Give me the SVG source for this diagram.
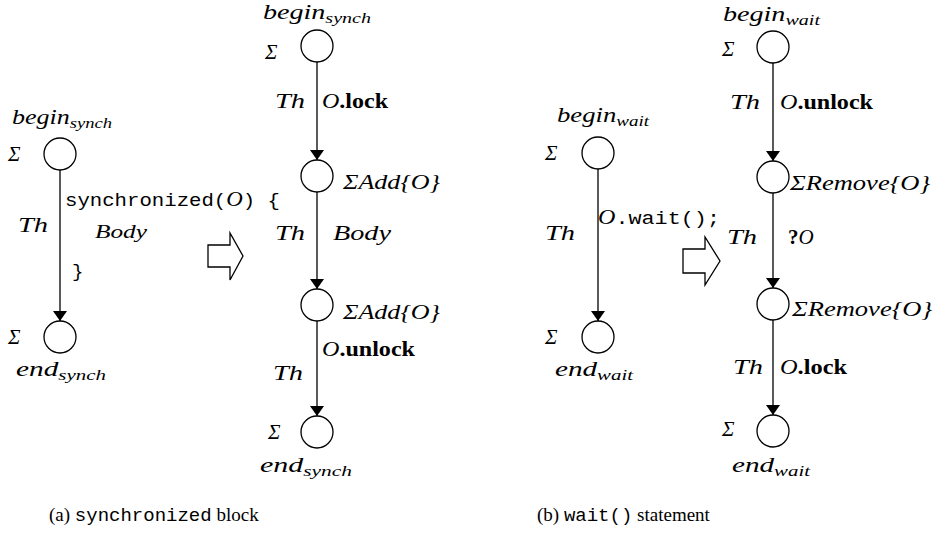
<svg xmlns="http://www.w3.org/2000/svg" width="937" height="533" viewBox="0 0 937 533">
  <style>
    .bg { fill: #ffffff; }
    .state { fill: #ffffff; stroke: #000000; stroke-width: 1.3; }
    .edge { fill: none; stroke: #000000; stroke-width: 1.3; marker-end: url(#head); }
    .big { fill: #ffffff; stroke: #000000; stroke-width: 1.3; stroke-linejoin: miter; }
    .m { font-family: "Liberation Serif", "Times New Roman", serif; font-style: italic; font-size: 21px; fill: #000; }
    .sub { font-size: 15px; }
    .b { font-family: "Liberation Serif", "Times New Roman", serif; font-style: normal; font-weight: bold; font-size: 21px; }
    .tt { font-family: "Liberation Mono", "Courier New", monospace; font-style: normal; font-size: 19px; fill: #000; }
    .cap { font-family: "Liberation Serif", "Times New Roman", serif; font-size: 19px; fill: #000; }
    .cap .tt { font-size: 19px; }
  </style>
  <defs>
    <marker id="head" viewBox="0 0 10 20" refX="10" refY="10" markerWidth="10" markerHeight="20" markerUnits="userSpaceOnUse" orient="auto">
      <path d="M0,3 L10,10 L0,17 Z" fill="#000"/>
    </marker>
  </defs>
  <rect class="bg" x="0" y="0" width="937" height="533"/>

  <!-- connectors -->
  <g id="connectors">
    <line class="edge" x1="60" y1="170" x2="60" y2="321"/>
    <line class="edge" x1="317" y1="62" x2="317" y2="160"/>
    <line class="edge" x1="317" y1="192" x2="317" y2="289"/>
    <line class="edge" x1="317" y1="321" x2="317" y2="416"/>
    <line class="edge" x1="598" y1="169" x2="598" y2="321"/>
    <line class="edge" x1="773" y1="63" x2="773" y2="161"/>
    <line class="edge" x1="773" y1="193" x2="773" y2="288"/>
    <line class="edge" x1="773" y1="320" x2="773" y2="415"/>
  </g>

  <!-- (a) synchronized block, source form -->
  <g id="a-begin">
    <circle class="state" cx="60" cy="154" r="16"/>
    <text class="m" x="12" y="124" textLength="100" lengthAdjust="spacingAndGlyphs">begin<tspan class="sub" dy="4">synch</tspan></text>
    <text class="m" x="8" y="161">Σ</text>
  </g>
  <g id="a-end">
    <circle class="state" cx="60" cy="337" r="16"/>
    <text class="m" x="8" y="344">Σ</text>
    <text class="m" x="16" y="376" textLength="90" lengthAdjust="spacingAndGlyphs">end<tspan class="sub" dy="4">synch</tspan></text>
  </g>
  <g id="a-edge-labels">
    <text class="m" x="18" y="232" textLength="30" lengthAdjust="spacingAndGlyphs">Th</text>
    <text class="tt" x="65" y="206" textLength="215" lengthAdjust="spacingAndGlyphs">synchronized(<tspan class="m">O</tspan>) {</text>
    <text class="m" x="95" y="238" style="font-size:18px" textLength="52" lengthAdjust="spacingAndGlyphs">Body</text>
    <text class="tt" x="72" y="277">}</text>
  </g>

  <!-- transformation arrow (a) -->
  <polygon id="a-arrow" class="big" points="208,245 230,245 230,233 243,256 230,280 230,267 208,267"/>

  <!-- (a) synchronized block, expanded form -->
  <g id="a2-begin">
    <circle class="state" cx="317" cy="46" r="16"/>
    <text class="m" x="263" y="19" textLength="108" lengthAdjust="spacingAndGlyphs">begin<tspan class="sub" dy="4">synch</tspan></text>
    <text class="m" x="265" y="59">Σ</text>
  </g>
  <g id="a2-lock">
    <circle class="state" cx="317" cy="176" r="16"/>
    <text class="m" x="343" y="189" textLength="97" lengthAdjust="spacingAndGlyphs">ΣAdd{O}</text>
  </g>
  <g id="a2-body">
    <circle class="state" cx="317" cy="305" r="16"/>
    <text class="m" x="343" y="319" textLength="97" lengthAdjust="spacingAndGlyphs">ΣAdd{O}</text>
  </g>
  <g id="a2-end">
    <circle class="state" cx="317" cy="432" r="16"/>
    <text class="m" x="268" y="439">Σ</text>
    <text class="m" x="260" y="472" textLength="92" lengthAdjust="spacingAndGlyphs">end<tspan class="sub" dy="4">synch</tspan></text>
  </g>
  <g id="a2-edge-labels">
    <text class="m" x="275" y="108" textLength="30" lengthAdjust="spacingAndGlyphs">Th</text>
    <text class="m" x="322" y="108" textLength="66" lengthAdjust="spacingAndGlyphs">O<tspan class="b">.lock</tspan></text>
    <text class="m" x="275" y="240" textLength="30" lengthAdjust="spacingAndGlyphs">Th</text>
    <text class="m" x="333" y="240" textLength="58" lengthAdjust="spacingAndGlyphs">Body</text>
    <text class="m" x="322" y="356" textLength="93" lengthAdjust="spacingAndGlyphs">O<tspan class="b">.unlock</tspan></text>
    <text class="m" x="273" y="380" textLength="30" lengthAdjust="spacingAndGlyphs">Th</text>
  </g>

  <!-- (b) wait() statement, source form -->
  <g id="b-begin">
    <circle class="state" cx="598" cy="153" r="16"/>
    <text class="m" x="557" y="122" textLength="92" lengthAdjust="spacingAndGlyphs">begin<tspan class="sub" dy="4">wait</tspan></text>
    <text class="m" x="545" y="160">Σ</text>
  </g>
  <g id="b-end">
    <circle class="state" cx="598" cy="337" r="16"/>
    <text class="m" x="545" y="344">Σ</text>
    <text class="m" x="555" y="376" textLength="78" lengthAdjust="spacingAndGlyphs">end<tspan class="sub" dy="4">wait</tspan></text>
  </g>
  <g id="b-edge-labels">
    <text class="m" x="545" y="240" textLength="30" lengthAdjust="spacingAndGlyphs">Th</text>
    <text class="tt" x="598" y="224" textLength="122" lengthAdjust="spacingAndGlyphs"><tspan class="m">O</tspan>.wait();</text>
  </g>

  <!-- transformation arrow (b) -->
  <polygon id="b-arrow" class="big" points="683,249 705,249 705,237 720,261 705,285 705,273 683,273"/>

  <!-- (b) wait() statement, expanded form -->
  <g id="b2-begin">
    <circle class="state" cx="773" cy="47" r="16"/>
    <text class="m" x="723" y="21" textLength="97" lengthAdjust="spacingAndGlyphs">begin<tspan class="sub" dy="4">wait</tspan></text>
    <text class="m" x="722" y="56">Σ</text>
  </g>
  <g id="b2-unlocked">
    <circle class="state" cx="773" cy="177" r="16"/>
    <text class="m" x="790" y="190" textLength="140" lengthAdjust="spacingAndGlyphs">ΣRemove{O}</text>
  </g>
  <g id="b2-notified">
    <circle class="state" cx="773" cy="304" r="16"/>
    <text class="m" x="792" y="316" textLength="140" lengthAdjust="spacingAndGlyphs">ΣRemove{O}</text>
  </g>
  <g id="b2-end">
    <circle class="state" cx="773" cy="431" r="16"/>
    <text class="m" x="722" y="436">Σ</text>
    <text class="m" x="732" y="472" textLength="78" lengthAdjust="spacingAndGlyphs">end<tspan class="sub" dy="4">wait</tspan></text>
  </g>
  <g id="b2-edge-labels">
    <text class="m" x="730" y="109" textLength="30" lengthAdjust="spacingAndGlyphs">Th</text>
    <text class="m" x="780" y="109" textLength="93" lengthAdjust="spacingAndGlyphs">O<tspan class="b">.unlock</tspan></text>
    <text class="m" x="727" y="244" textLength="30" lengthAdjust="spacingAndGlyphs">Th</text>
    <text class="m" x="788" y="244"><tspan class="b">?</tspan>O</text>
    <text class="m" x="733" y="374" textLength="30" lengthAdjust="spacingAndGlyphs">Th</text>
    <text class="m" x="780" y="374" textLength="67" lengthAdjust="spacingAndGlyphs">O<tspan class="b">.lock</tspan></text>
  </g>

  <!-- captions -->
  <text class="cap" x="49" y="521">(a) <tspan class="tt">synchronized</tspan> block</text>
  <text class="cap" x="537" y="521">(b) <tspan class="tt">wait()</tspan> statement</text>
</svg>
